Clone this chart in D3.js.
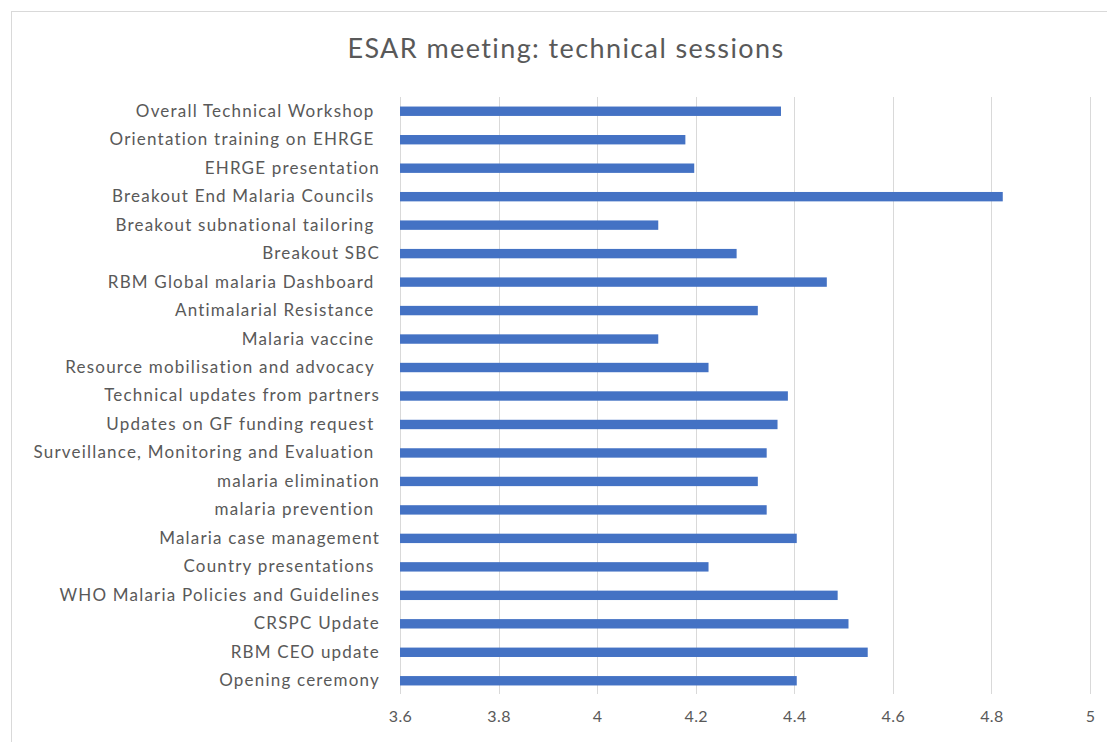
<!DOCTYPE html>
<html>
<head>
<meta charset="utf-8">
<script src="https://cdn.jsdelivr.net/npm/d3@7"></script>
<style>
  html, body { margin: 0; padding: 0; background: #fff; }
  svg { display: block; }
</style>
</head>
<body>
<div id="chart"></div>
<script>
// sessions, top to bottom as shown
const sessions = [
  "Overall Technical Workshop ",
  "Orientation training on EHRGE ",
  "EHRGE presentation",
  "Breakout End Malaria Councils ",
  "Breakout subnational tailoring ",
  "Breakout SBC",
  "RBM Global malaria Dashboard ",
  "Antimalarial Resistance ",
  "Malaria vaccine ",
  "Resource mobilisation and advocacy ",
  "Technical updates from partners",
  "Updates on GF funding request ",
  "Surveillance, Monitoring and Evaluation ",
  "malaria elimination",
  "malaria prevention ",
  "Malaria case management",
  "Country presentations ",
  "WHO Malaria Policies and Guidelines",
  "CRSPC Update",
  "RBM CEO update",
  "Opening ceremony"
]

const scores = [
  4.373, 4.179, 4.197, 4.823, 4.124, 4.283, 4.466, 4.326, 4.124, 4.226,
  4.387, 4.366, 4.344, 4.326, 4.344, 4.405, 4.226, 4.488, 4.51, 4.549, 4.405
]

const xTicks = [3.6, 3.8, 4, 4.2, 4.4, 4.6, 4.8, 5]

const width = 1107
const height = 742
const margin = { top: 97, right: 17, bottom: 48, left: 400 }
const font = 'Lato, "Open Sans", sans-serif'

const svg = d3.select('#chart')
  .append('svg')
  .attr('width', width)
  .attr('height', height)

// chart frame
svg.append('rect')
  .attr('x', 11.5)
  .attr('y', 11.5)
  .attr('width', width + 10)
  .attr('height', height + 10)
  .attr('fill', 'none')
  .attr('stroke', '#d9d9d9')

svg.append('text')
  .attr('x', 566)
  .attr('y', 58)
  .attr('text-anchor', 'middle')
  .style('font-family', font)
  .style('font-size', '27px')
  .style('letter-spacing', '1.4px')
  .style('fill', '#595959')
  .text('ESAR meeting: technical sessions')

const x = d3.scaleLinear()
  .domain([3.6, 5])
  .range([margin.left, 1090])

const y = d3.scaleBand()
  .domain(sessions)
  .range([margin.top, height - margin.bottom + 1])
  .paddingInner(0.67)
  .paddingOuter(0.335)

// gridlines
svg.append('g')
  .selectAll('line')
  .data(xTicks)
  .join('line')
  .attr('x1', d => Math.round(x(d)) + 0.5)
  .attr('x2', d => Math.round(x(d)) + 0.5)
  .attr('y1', margin.top)
  .attr('y2', height - margin.bottom)
  .attr('stroke', '#d9d9d9')
  .attr('stroke-width', 1)

// bars
svg.append('g')
  .selectAll('rect')
  .data(sessions)
  .join('rect')
  .attr('x', x(3.6))
  .attr('y', d => y(d))
  .attr('width', (d, i) => x(scores[i]) - x(3.6))
  .attr('height', y.bandwidth())
  .attr('fill', '#4472c4')

// x axis labels
const xAxis = svg.append('g')
  .attr('transform', `translate(0,${height - margin.bottom})`)
  .call(d3.axisBottom(x).tickValues(xTicks).tickFormat(d3.format('')).tickSize(0).tickPadding(17))
xAxis.select('.domain').remove()
xAxis.selectAll('text')
  .style('font-family', font)
  .style('font-size', '16px')
  .style('letter-spacing', '0.4px')
  .style('fill', '#595959')

// category labels
const yAxis = svg.append('g')
  .attr('transform', `translate(${margin.left},0)`)
  .call(d3.axisLeft(y).tickSize(0).tickPadding(20))
yAxis.select('.domain').remove()
yAxis.selectAll('text')
  .attr('xml:space', 'preserve')
  .style('white-space', 'pre')
  .style('font-family', font)
  .style('font-size', '17px')
  .style('letter-spacing', '1.2px')
  .style('fill', '#595959')
</script>
</body>
</html>
